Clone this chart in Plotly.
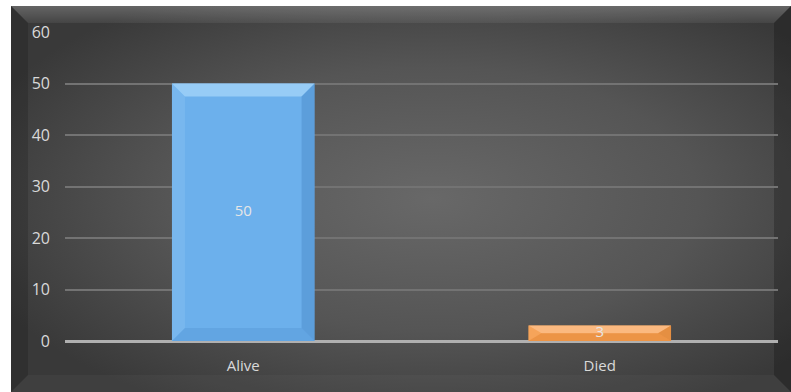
import base64
import plotly.graph_objects as go

categories = ["Alive", "Died"]
values = [50, 3]
bar_colors = ["#6cb0ec", "#f59d4d"]
bar_tops = ["#a6d5fa", "#fcc391"]
bar_lefts = ["#8ec6f4", "#f9b274"]
bar_rights = ["#4a8ac8", "#d27e36"]
bar_bottoms = ["#4f92d0", "#dc8538"]
y_ticks = [0, 10, 20, 30, 40, 50, 60]

W, H = 791, 392
ML, MR, MT, MB = 65, 13, 32, 51
PW, PH = W - ML - MR, H - MT - MB
BAR_W = 0.4

def px(x):
    return (x - ML) / PW

def py(y):
    return (H - MB - y) / PH

fig = go.Figure()
fig.add_trace(go.Bar(
    x=list(range(len(categories))), y=values,
    marker=dict(color=bar_colors, line=dict(width=0)),
    width=BAR_W, hoverinfo="skip",
))

# bevel decorations on bars, derived from the data values
ux = PW / len(categories)
uy = PH / 60.0
def add_poly(pts, color, op):
    xs = [p[0] for p in pts] + [pts[0][0]]
    ys = [p[1] for p in pts] + [pts[0][1]]
    fig.add_trace(go.Scatter(x=xs, y=ys, mode="lines", fill="toself",
                             fillcolor=color, opacity=op, line=dict(width=0),
                             hoverinfo="skip"))

for i, v in enumerate(values):
    bpx = 13.0
    bh = min(bpx, v * uy / 2.0) / uy
    bw = bpx / ux
    x0, x1 = i - BAR_W / 2, i + BAR_W / 2
    add_poly([(x0, v), (x1, v), (x1 - bw, v - bh), (x0 + bw, v - bh)], bar_tops[i], 0.75)
    add_poly([(x0, v), (x0 + bw, v - bh), (x0 + bw, bh), (x0, 0)], bar_lefts[i], 0.35)
    add_poly([(x1, v), (x1 - bw, v - bh), (x1 - bw, bh), (x1, 0)], bar_rights[i], 0.45)
    add_poly([(x0, 0), (x0 + bw, bh), (x1 - bw, bh), (x1, 0)], bar_bottoms[i], 0.35)

# data labels
fig.add_trace(go.Scatter(
    x=list(range(len(categories))), y=[v / 2 for v in values],
    mode="text", text=[str(v) for v in values],
    textfont=dict(color="#e6e6e6", size=15, family="Open Sans"),
    hoverinfo="skip",
))

# background frame as an SVG image
fx0, fy0, fw, fh = 11, 6, 780, 386
b = 17
svg = f'''<svg xmlns="http://www.w3.org/2000/svg" width="{fw}" height="{fh}" viewBox="0 0 {fw} {fh}">
<defs>
<radialGradient id="g" cx="0.54" cy="0.5" r="0.62" fx="0.54" fy="0.5">
<stop offset="0" stop-color="#686868"/>
<stop offset="0.55" stop-color="#555555"/>
<stop offset="1" stop-color="#393939"/>
</radialGradient>
<linearGradient id="t" x1="0" y1="0" x2="0" y2="1">
<stop offset="0" stop-color="#ffffff" stop-opacity="0.22"/>
<stop offset="1" stop-color="#ffffff" stop-opacity="0.06"/>
</linearGradient>
</defs>
<rect x="0" y="0" width="{fw}" height="{fh}" fill="url(#g)"/>
<polygon points="0,0 {fw},0 {fw-b},{b} {b},{b}" fill="url(#t)"/>
<polygon points="0,0 {b},{b} {b},{fh-b} 0,{fh}" fill="#000000" fill-opacity="0.15"/>
<polygon points="{fw},0 {fw},{fh} {fw-b},{fh-b} {fw-b},{b}" fill="#000000" fill-opacity="0.22"/>
<polygon points="0,{fh} {b},{fh-b} {fw-b},{fh-b} {fw},{fh}" fill="#ffffff" fill-opacity="0.03"/>
</svg>'''
src = "data:image/svg+xml;base64," + base64.b64encode(svg.encode()).decode()

fig.update_layout(
    width=W, height=H,
    margin=dict(l=ML, r=MR, t=MT, b=MB),
    paper_bgcolor="white",
    plot_bgcolor="rgba(0,0,0,0)",
    images=[dict(source=src, xref="paper", yref="paper",
                 x=px(fx0), y=py(fy0), sizex=fw / PW, sizey=fh / PH,
                 xanchor="left", yanchor="top", sizing="stretch", layer="below")],
    showlegend=False,
    font=dict(family="Open Sans", color="#d9d9d9", size=15),
    xaxis=dict(showgrid=False, showline=False, zeroline=False,
               tickvals=list(range(len(categories))), ticktext=categories,
               range=[-0.5, len(categories) - 0.5],
               tickfont=dict(size=15, color="#d9d9d9"), ticks="",
               ticklabelstandoff=14),
    yaxis=dict(range=[0, 60], tickvals=y_ticks, showgrid=True,
               gridcolor="#737373", gridwidth=1.5, zeroline=True,
               zerolinecolor="#b0b0b0", zerolinewidth=2.5, showline=False,
               tickfont=dict(size=16, color="#d9d9d9"), ticks="",
               ticklabelstandoff=14),
)

fig.write_html("out.html")
